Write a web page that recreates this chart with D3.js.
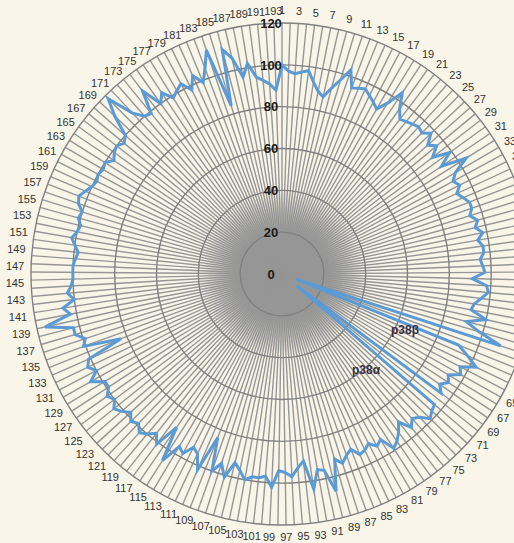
<!DOCTYPE html>
<html>
<head>
<meta charset="utf-8">
<script src="https://cdn.jsdelivr.net/npm/d3@7"></script>
<style>
  html, body { margin: 0; padding: 0; background: #f9f6e9; overflow: hidden; }
  svg { display: block; }
</style>
</head>
<body>
<svg id="chart" width="514" height="543"></svg>
<script>
// Kinase panel numbering (1..193) around the radar
const categories = d3.range(1, 194);

// % activity remaining for each kinase in the panel
const activity = [
  100, 97, 96, 97, 98, 93, 89, 87, 92, 97,
  103, 95, 96, 97, 95, 93, 91, 96, 104, 97,
  93, 94, 95, 96, 95, 98, 93, 96, 91, 99,
  92, 104, 96, 93, 95, 92, 94, 96, 96, 94,
  97, 95, 98, 95, 97, 97, 95, 96, 97, 91,
  98, 99, 96, 93, 92, 100, 91, 98, 110, 7,
  91, 97, 103, 96, 98, 93, 95, 92, 95, 9,
  96, 97, 99, 95, 93, 96, 90, 94, 97, 99,
  92, 94, 91, 93, 94, 90, 92, 95, 92, 107,
  96, 95, 104, 90, 93, 97, 95, 94, 102, 97,
  98, 98, 100, 96, 93, 101, 95, 100, 84, 102,
  95, 93, 98, 96, 106, 89, 101, 97, 100, 102,
  99, 101, 98, 101, 103, 100, 102, 99, 99, 105,
  100, 103, 101, 83, 101, 99, 103, 103, 116, 103,
  106, 100, 103, 101, 100, 100, 100, 99, 98, 100,
  102, 100, 99, 101, 100, 103, 104, 102, 100, 99,
  100, 99, 100, 97, 99, 100, 98, 100, 110, 118,
  105, 100, 99, 110, 100, 104, 99, 101, 103, 98,
  104, 99, 105, 113, 84, 111, 106, 96, 102, 95,
  93, 91, 88
];

// Radial axis ticks
const radialTicks = [0, 20, 40, 60, 80, 100, 120];

// Annotated kinases (panel numbers)
const callouts = [
  { name: "p38β", id: 60 },
  { name: "p38α", id: 70 }
];

const svg = d3.select("#chart");
const cx = 282, cy = 274, R = 251;

// soft gray core where the spokes crowd together
const defs = svg.append("defs");
const grad = defs.append("radialGradient").attr("id", "core");
grad.append("stop").attr("offset", "0%").attr("stop-color", "#9a9a9a").attr("stop-opacity", 1);
grad.append("stop").attr("offset", "55%").attr("stop-color", "#9a9a9a").attr("stop-opacity", 0.95);
grad.append("stop").attr("offset", "78%").attr("stop-color", "#9a9a9a").attr("stop-opacity", 0.5);
grad.append("stop").attr("offset", "100%").attr("stop-color", "#9a9a9a").attr("stop-opacity", 0);

const g = svg.append("g").attr("transform", `translate(${cx},${cy})`);

const r = d3.scaleLinear().domain([0, 120]).range([0, R]);
const angle = d3.scalePoint()
  .domain(categories)
  .range([0, 2 * Math.PI * (categories.length - 1) / categories.length]);

g.append("circle").attr("r", 82).attr("fill", "url(#core)");

// spokes
g.append("g").selectAll("line")
  .data(categories)
  .join("line")
  .attr("x1", 0).attr("y1", 0)
  .attr("x2", d => r(120) * Math.sin(angle(d)))
  .attr("y2", d => -r(120) * Math.cos(angle(d)))
  .attr("stroke", "#969696")
  .attr("stroke-width", 1.4);

// rings
g.append("g").selectAll("circle")
  .data(radialTicks.filter(t => t > 0))
  .join("circle")
  .attr("r", d => r(d))
  .attr("fill", "none")
  .attr("stroke", "#808080")
  .attr("stroke-width", 1.4);

// series line
const line = d3.lineRadial()
  .angle((d, i) => angle(categories[i]))
  .radius(d => r(d))
  .curve(d3.curveLinearClosed);

g.append("path")
  .datum(activity)
  .attr("d", line)
  .attr("fill", "none")
  .attr("stroke", "#5b9bd5")
  .attr("stroke-width", 3)
  .attr("stroke-linejoin", "miter");

// radial tick labels
g.append("g").selectAll("text")
  .data(radialTicks)
  .join("text")
  .attr("x", -11)
  .attr("y", d => -r(d))
  .attr("dy", "0.36em")
  .attr("text-anchor", "middle")
  .attr("font-family", "Liberation Sans, Arial, sans-serif")
  .attr("font-size", 13)
  .attr("font-weight", "bold")
  .attr("fill", "#1a1a1a")
  .text(d => d);

// category labels (odd numbers), horizontal, outside the outer ring
const labR = R + 7;
const lab = g.append("g").selectAll("text")
  .data(categories.filter(c => c % 2 === 1))
  .join("text")
  .attr("font-family", "Liberation Sans, Arial, sans-serif")
  .attr("font-size", 11)
  .attr("fill", "#333")
  .attr("text-anchor", "middle")
  .attr("dy", "0.35em")
  .text(d => d);

lab.each(function(d) {
  const a = angle(d);
  const w = this.getComputedTextLength();
  const h = 9;
  const x = labR * Math.sin(a) + Math.sin(a) * (w / 2);
  const y = -labR * Math.cos(a) - Math.cos(a) * (h / 2 + 1) + 3 * Math.max(0, -Math.sin(a));
  d3.select(this).attr("x", x).attr("y", y);
});

// callout labels
const calloutPos = { "p38β": [123, 56], "p38α": [84, 96] };
g.append("g").selectAll("text")
  .data(callouts)
  .join("text")
  .attr("x", d => calloutPos[d.name][0])
  .attr("y", d => calloutPos[d.name][1])
  .attr("text-anchor", "middle")
  .attr("dy", "0.35em")
  .attr("font-family", "Liberation Sans, Arial, sans-serif")
  .attr("font-size", 12)
  .attr("font-weight", "bold")
  .attr("fill", "#3a3046")
  .text(d => d.name);
</script>
</body>
</html>
